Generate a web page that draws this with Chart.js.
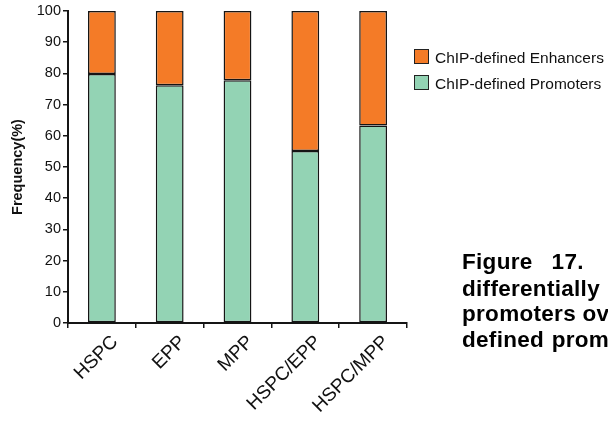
<!DOCTYPE html>
<html>
<head>
<meta charset="utf-8">
<script src="https://cdn.jsdelivr.net/npm/chart.js@4/dist/chart.umd.min.js"></script>
<style>
  html, body { margin: 0; padding: 0; background: #fff; }
  body { width: 608px; height: 421px; overflow: hidden; position: relative;
         font-family: "Liberation Sans", Arial, Helvetica, sans-serif; }
  #wrap { position: absolute; left: 0; top: 0; width: 608px; height: 421px; }
  #legend { position: absolute; left: 414px; top: 49px; }
  .lg-row { position: relative; height: 26px; }
  .lg-box { position: absolute; left: 0; top: 0; width: 15px; height: 15px;
            box-sizing: border-box; border: 1.5px solid #222; }
  .lg-text { position: absolute; left: 21px; top: 0; white-space: nowrap;
             font-size: 15.5px; line-height: 18px; color: #111; }
  .cap { position: absolute; left: 462px; white-space: nowrap; font-weight: bold;
         font-size: 22.5px; line-height: 25px; letter-spacing: 0.3px; color: #000; }
</style>
</head>
<body>
<div id="wrap"><canvas id="c" width="608" height="421"></canvas></div>
<div id="legend"></div>
<div class="cap" style="top:249px; word-spacing:12.5px;">Figure 17.</div>
<div class="cap" style="top:275.5px;">differentially</div>
<div class="cap" style="top:301px; word-spacing:0px;">promoters over</div>
<div class="cap" style="top:326.5px; word-spacing:1px;">defined promoters</div>
<script>
// Cell populations compared
const categories = ['HSPC', 'EPP', 'MPP', 'HSPC/EPP', 'HSPC/MPP'];
// Share (%) of ChIP-defined promoters and enhancers per population
const promoters = [79.8, 76.2, 77.8, 55.1, 63.3];
const enhancers = [20.2, 23.8, 22.2, 44.9, 36.7];
// Y axis range and step
const yTicks = { min: 0, max: 100, step: 10 };
const seriesNames = ['ChIP-defined Promoters', 'ChIP-defined Enhancers'];
const axisTitle = 'Frequency(%)';

const FONT = '"Liberation Sans", Arial, Helvetica, sans-serif';
const GREEN = '#93d3b4';
const ORANGE = '#f47b27';
const INK = '#151515';

const chart = new Chart(document.getElementById('c'), {
  type: 'bar',
  data: {
    labels: categories,
    datasets: [
      { label: seriesNames[0], data: promoters, backgroundColor: GREEN,
        borderColor: INK, borderWidth: 1.5, borderSkipped: false },
      { label: seriesNames[1], data: enhancers, backgroundColor: ORANGE,
        borderColor: INK, borderWidth: 1.5, borderSkipped: false }
    ]
  },
  options: {
    responsive: false,
    animation: false,
    devicePixelRatio: 1,
    events: [],
    layout: { padding: { top: 11, right: 201, left: 0, bottom: 0 } },
    datasets: { bar: { categoryPercentage: 1, barPercentage: 0.41 } },
    plugins: { legend: { display: false }, tooltip: { enabled: false } },
    scales: {
      x: {
        stacked: true,
        afterFit(s) { s.height = 98; },
        border: { display: true, color: INK, width: 2 },
        grid: { display: true, drawOnChartArea: false, drawTicks: true,
                tickLength: 5, color: INK, lineWidth: 1.5, offset: true },
        ticks: { autoSkip: false, maxRotation: 45, minRotation: 45,
                 labelOffset: 13, padding: 3,
                 color: '#111', font: { family: FONT, size: 19 } }
      },
      y: {
        stacked: true,
        min: yTicks.min, max: yTicks.max,
        afterFit(s) { s.width = 68; },
        border: { display: true, color: INK, width: 2 },
        grid: { display: true, drawOnChartArea: false, drawTicks: true,
                tickLength: 5, color: INK, lineWidth: 1.5 },
        ticks: { stepSize: yTicks.step, padding: 2, color: '#111',
                 font: { family: FONT, size: 14.5 } },
        title: { display: true, text: axisTitle, color: '#111', padding: 9,
                 font: { family: FONT, size: 14.5, weight: 'bold' } }
      }
    }
  }
});

// Legend: top of the stack listed first
const legend = document.getElementById('legend');
chart.data.datasets.slice().reverse().forEach(ds => {
  const row = document.createElement('div');
  row.className = 'lg-row';
  const box = document.createElement('div');
  box.className = 'lg-box';
  box.style.background = ds.backgroundColor;
  const txt = document.createElement('div');
  txt.className = 'lg-text';
  txt.textContent = ds.label;
  row.appendChild(box);
  row.appendChild(txt);
  legend.appendChild(row);
});
</script>
</body>
</html>
